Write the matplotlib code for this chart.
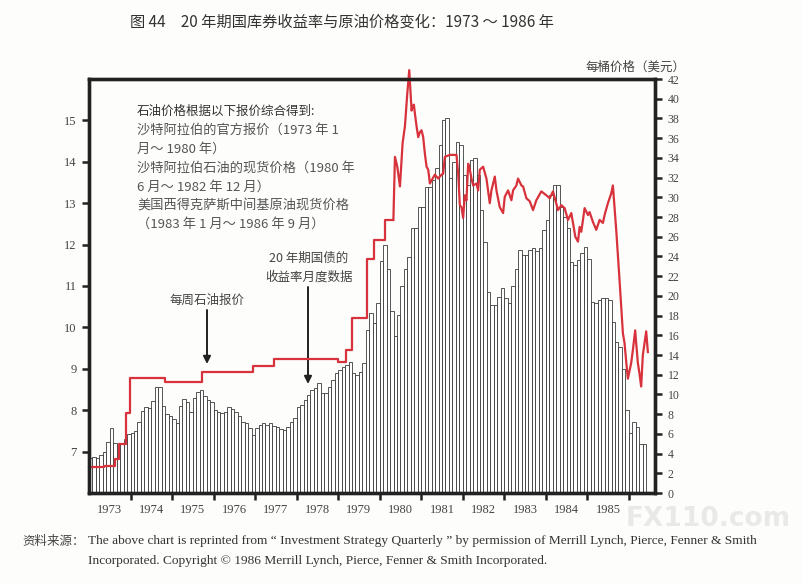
import matplotlib
matplotlib.use('Agg')
import matplotlib.pyplot as plt
import numpy as np

plt.rcParams['font.family'] = ['Noto Sans CJK SC', 'DejaVu Sans']

# 20年期国债月度收益率(%)，1973年1月起
y1973 = [6.85, 6.87, 6.85, 6.92, 7.0, 7.23, 7.57, 7.2, 7.16, 7.2, 7.3, 7.42]
y1974 = [7.45, 7.5, 7.72, 7.98, 8.08, 8.05, 8.23, 8.55, 8.55, 8.1, 7.9, 7.85]
y1975 = [7.78, 7.7, 8.1, 8.28, 8.2, 7.96, 8.3, 8.45, 8.5, 8.35, 8.25, 8.2]
y1976 = [8.0, 7.96, 7.93, 7.95, 8.08, 8.04, 7.95, 7.85, 7.72, 7.68, 7.57, 7.4]
y1977 = [7.57, 7.64, 7.68, 7.64, 7.7, 7.62, 7.6, 7.55, 7.52, 7.6, 7.72, 7.82]
y1978 = [8.08, 8.13, 8.25, 8.37, 8.49, 8.53, 8.65, 8.41, 8.41, 8.57, 8.73, 8.89]
y1979 = [8.97, 9.05, 9.09, 9.17, 8.89, 8.85, 8.93, 9.15, 9.94, 10.35, 10.1, 10.6]
y1980 = [11.6, 12.0, 11.4, 10.4, 9.8, 10.3, 11.0, 11.4, 11.7, 12.4, 12.4, 12.9]
y1981 = [12.9, 13.4, 13.4, 13.56, 13.85, 14.4, 15.0, 15.05, 13.6, 14.0, 14.49, 14.4]
y1982 = [13.68, 13.44, 14.04, 14.1, 13.68, 12.84, 12.07, 10.86, 10.54, 10.54, 10.74, 10.94]
y1983 = [10.7, 10.58, 11.0, 11.4, 11.87, 11.75, 11.75, 11.87, 11.92, 11.85, 11.92, 12.35]
y1984 = [12.6, 13.2, 13.44, 13.44, 12.92, 12.67, 12.39, 11.59, 11.5, 11.63, 11.79, 11.95]
y1985 = [11.65, 10.62, 10.58, 10.66, 10.7, 10.7, 10.66, 10.14, 9.65, 9.53, 9.0, 8.0]
y1986 = [7.45, 7.72, 7.6, 7.18, 7.18]

yields = (y1973 + y1974 + y1975 + y1976 + y1977 + y1978 + y1979 + y1980
          + y1981 + y1982 + y1983 + y1984 + y1985 + y1986)

# 官方报价（阶梯）
step_t = [1973.0, 1973.35, 1973.63, 1973.73, 1973.88, 1973.99, 1974.84, 1975.72,
          1976.95, 1977.46, 1979.0, 1979.18, 1979.33, 1979.69, 1979.86, 1980.12, 1980.33]
step_p = [2.65, 2.72, 3.5, 5.0, 8.1, 11.65, 11.3, 12.3,
          12.9, 13.56, 13.3, 14.5, 17.8, 23.7, 25.7, 27.7, 27.7]

# 现货价格
spot_t = [1980.33, 1980.368, 1980.424, 1980.488, 1980.552, 1980.608, 1980.664, 1980.712,
          1980.768, 1980.792, 1980.824, 1980.848, 1980.888, 1980.928, 1980.968, 1981.008,
          1981.048, 1981.089, 1981.129, 1981.169, 1981.209, 1981.249, 1981.329, 1981.409,
          1981.489, 1981.529, 1981.569, 1981.69, 1981.85, 1981.89, 1981.93, 1981.97,
          1982.01, 1982.05, 1982.09, 1982.131, 1982.171, 1982.211, 1982.251, 1982.331,
          1982.371, 1982.411, 1982.491, 1982.571, 1982.651, 1982.691, 1982.772, 1982.812,
          1982.892, 1982.972, 1983.012, 1983.092, 1983.172, 1983.212, 1983.292, 1983.332,
          1983.413, 1983.453, 1983.533, 1983.613, 1983.693, 1983.773, 1983.893, 1984.014,
          1984.094, 1984.174, 1984.294, 1984.374, 1984.454, 1984.534, 1984.615, 1984.655,
          1984.711, 1984.775, 1984.815, 1984.855, 1984.935, 1985.015, 1985.055, 1985.135,
          1985.216, 1985.296, 1985.376, 1985.416, 1985.496, 1985.576, 1985.616, 1985.696,
          1985.776, 1985.857, 1985.897, 1985.937, 1985.977, 1986.057, 1986.097, 1986.153,
          1986.177, 1986.217, 1986.257, 1986.297, 1986.337, 1986.378, 1986.418, 1986.458]
spot_p = [27.7, 34.1, 33.1, 31.1, 35.5, 37.2, 40.5, 42.9,
          38.8, 39.2, 39.4, 38.5, 37.2, 36.1, 36.6, 36.8,
          36.1, 34.4, 33.1, 32.8, 31.4, 31.7, 32.3, 31.9,
          32.3, 32.4, 34.1, 34.3, 34.3, 32.4, 29.2, 29.0,
          27.9, 30.2, 29.7, 33.4, 32.8, 31.9, 31.2, 31.4,
          30.7, 32.8, 33.1, 31.9, 29.4, 30.7, 32.1, 30.7,
          29.0, 28.4, 30.05, 30.7, 29.7, 30.7, 31.2, 31.9,
          31.2, 31.1, 29.9, 29.6, 28.7, 29.7, 30.6, 30.2,
          29.9, 30.6, 28.7, 29.2, 28.9, 27.7, 28.4, 27.4,
          26.0, 25.5, 27.0, 26.5, 28.9, 28.2, 28.5, 27.5,
          26.7, 27.7, 27.4, 28.2, 29.4, 30.4, 31.2, 26.7,
          21.6, 16.2, 15.2, 13.3, 11.6, 13.2, 14.5, 16.5,
          15.2, 13.2, 12.1, 10.8, 14.0, 15.2, 16.4, 14.3]

year_labels = ['1973', '1974', '1975', '1976', '1977', '1978', '1979',
               '1980', '1981', '1982', '1983', '1984', '1985']
left_ticks = [7, 8, 9, 10, 11, 12, 13, 14, 15]
right_ticks = list(range(0, 43, 2))

W, H = 804, 585


def px(x, y):
    return x / W, 1 - y / H


fig = plt.figure(figsize=(W / 100, H / 100), dpi=100)
fig.patch.set_facecolor('#fdfdfb')

ax = fig.add_axes([89 / W, 1 - 493 / H, (655 - 89) / W, (493 - 79) / H])
ax.set_facecolor('none')

months = 1973 + np.arange(len(yields)) / 12
ax.bar(months, yields, width=1 / 12, align='edge', color='white',
       edgecolor='#3a3a3a', linewidth=0.6)
ax.set_xlim(1973.0, 1986.63)
ax.set_ylim(6, 16)

ax.set_yticks(left_ticks)
ax.tick_params(axis='y', direction='out', length=5, width=1.8, labelsize=9,
               pad=4, colors='#222', labelcolor='#444', labelfontfamily='Liberation Serif')

ax.set_xticks(np.arange(1974, 1987))
ax.set_xticklabels([])
ax.set_xticks(np.arange(1973.5, 1986, 1.0), minor=True)
ax.set_xticklabels(year_labels, minor=True)
ax.tick_params(axis='x', which='major', direction='out', length=5, width=1.8, colors='#222')
ax.tick_params(axis='x', which='minor', length=0, pad=8, labelsize=9,
               labelcolor='#444', labelfontfamily='Liberation Serif')

for s in ax.spines.values():
    s.set_linewidth(2.4)
    s.set_color('#222')

ax2 = ax.twinx()
ax2.set_ylim(0, 42)
ax2.set_yticks(right_ticks)
ax2.tick_params(axis='y', direction='out', length=5, width=1.8, labelsize=8.5,
                pad=4, colors='#222', labelcolor='#444', labelfontfamily='Liberation Serif')
for s in ax2.spines.values():
    s.set_linewidth(2.4)
    s.set_color('#222')

red = '#d8323c'
ax2.step(step_t, step_p, where='post', color=red, lw=1.6, clip_on=False)
ax2.plot(spot_t, spot_p, color=red, lw=1.6, clip_on=False, solid_joinstyle='round')

# 标题
fig.text(*px(130, 22), '图 44　20 年期国库券收益率与原油价格变化：1973 ～ 1986 年',
         fontsize=11, color='#333', va='center', ha='left')
fig.text(*px(686, 67), '每桶价格（美元）', fontsize=9, color='#444', va='center', ha='right')

# 说明文字
notes = ['石油价格根据以下报价综合得到:',
         '沙特阿拉伯的官方报价（1973 年 1',
         '月～ 1980 年）',
         '沙特阿拉伯石油的现货价格（1980 年',
         '6 月～ 1982 年 12 月）',
         '美国西得克萨斯中间基原油现货价格',
         '（1983 年 1 月～ 1986 年 9 月）']
note_y = [111, 130, 149, 168, 187, 205, 224]
for i, (t, yy) in enumerate(zip(notes, note_y)):
    fig.text(*px(137, yy), t, fontsize=9 if i == 0 else 9.5,
             color='#333' if i == 0 else '#555', va='center', ha='left')

fig.text(*px(207, 300), '每周石油报价', fontsize=9, color='#444', va='center', ha='center')
fig.text(*px(309, 258), '20 年期国债的', fontsize=9, color='#444', va='center', ha='center')
fig.text(*px(309, 277), '收益率月度数据', fontsize=9, color='#444', va='center', ha='center')

arrow = dict(arrowstyle='-|>', color='#222', lw=1.4, mutation_scale=11, shrinkA=0, shrinkB=0)
ax.annotate('', xy=px(207, 364), xytext=px(207, 310), xycoords='figure fraction',
            textcoords='figure fraction', arrowprops=arrow)
ax.annotate('', xy=px(308, 384), xytext=px(308, 287), xycoords='figure fraction',
            textcoords='figure fraction', arrowprops=arrow)

# 水印
fig.text(*px(626, 519), 'FX110.com', fontsize=19, fontweight='bold', color='#dcdcdc',
         alpha=0.6, va='center', ha='left', family='DejaVu Sans', zorder=0)

# 资料来源
fig.text(*px(22, 541), '资料来源：', fontsize=9, color='#444', va='center', ha='left')
fig.text(*px(88, 541), 'The above chart is reprinted from \u201c Investment Strategy Quarterly \u201d '
         'by permission of Merrill Lynch, Pierce, Fenner & Smith',
         fontsize=9.6, color='#333', va='center', ha='left', family='Liberation Serif')
fig.text(*px(88, 561), 'Incorporated. Copyright \u00a9 1986 Merrill Lynch, Pierce, Fenner & Smith Incorporated.',
         fontsize=9.6, color='#333', va='center', ha='left', family='Liberation Serif')

fig.savefig('out.png', dpi=100, facecolor=fig.get_facecolor())
